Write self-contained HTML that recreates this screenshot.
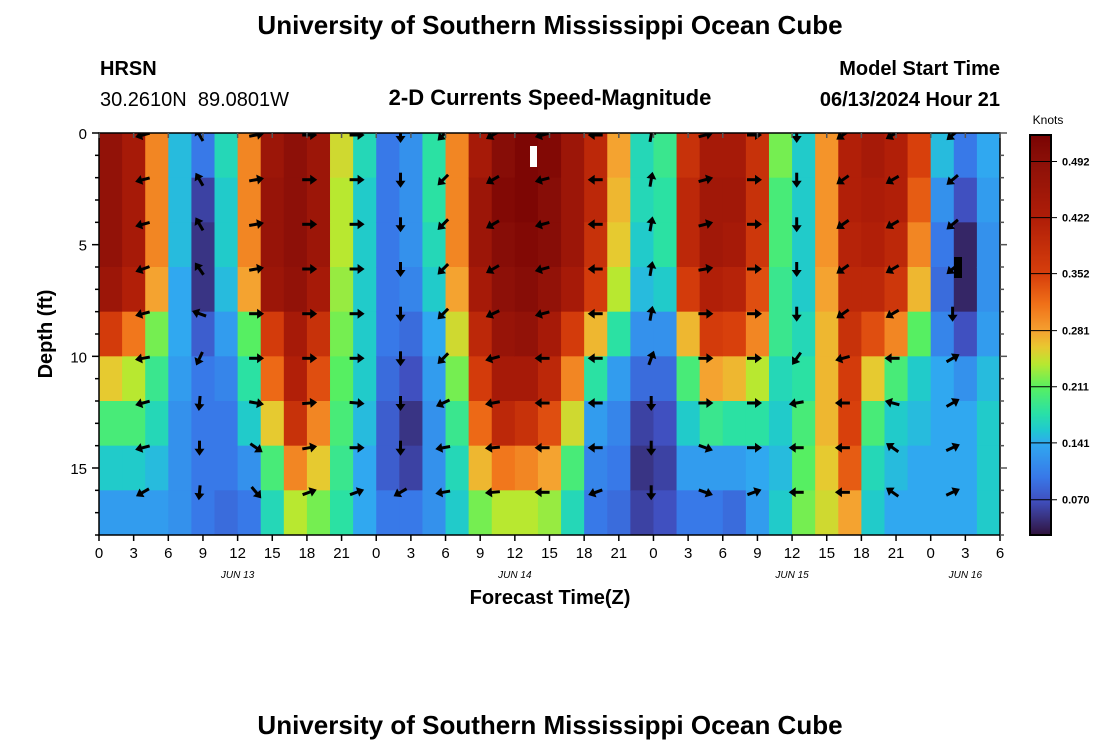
<!DOCTYPE html>
<html><head><meta charset="utf-8"><style>
body{margin:0;background:#fff;width:1100px;height:750px;overflow:hidden;font-family:"Liberation Sans",sans-serif}
svg text{font-family:"Liberation Sans",sans-serif}
</style></head><body>
<svg id="chart" width="1100" height="750" viewBox="0 0 1100 750">
<text x="550" y="34" text-anchor="middle" font-size="26" font-weight="bold">University of Southern Mississippi Ocean Cube</text>
<text x="100" y="75" font-size="20" font-weight="bold">HRSN</text>
<text x="100" y="106" font-size="20" xml:space="preserve">30.2610N  89.0801W</text>
<text x="550" y="105" text-anchor="middle" font-size="22" font-weight="bold">2-D Currents Speed-Magnitude</text>
<text x="1000" y="75" text-anchor="end" font-size="20" font-weight="bold">Model Start Time</text>
<text x="1000" y="106" text-anchor="end" font-size="20" font-weight="bold">06/13/2024 Hour 21</text>
<text x="1048" y="124" text-anchor="middle" font-size="12">Knots</text>
<text transform="translate(52,334) rotate(-90)" text-anchor="middle" font-size="20" font-weight="bold">Depth (ft)</text>
<text x="550" y="604" text-anchor="middle" font-size="20" font-weight="bold">Forecast Time(Z)</text>
<text x="550" y="734" text-anchor="middle" font-size="26" font-weight="bold">University of Southern Mississippi Ocean Cube</text>
<defs><clipPath id="plotclip"><rect x="99" y="133" width="901" height="402"/></clipPath></defs>
<g id="cells" clip-path="url(#plotclip)"></g>
<g id="arrows" clip-path="url(#plotclip)"></g>
<rect x="530" y="146" width="7" height="21" fill="#fff"/>
<rect x="954" y="257" width="8" height="21" fill="#000"/>
<g id="axes"></g>
<g id="cbar"></g>
</svg>
<script>
// Time columns: 2-hour bins, centers in forecast hours
const hours = [1,3,5,7,9,11,13,15,17,19,21,23,25,27,29,31,33,35,37,39,41,43,45,47,49,51,53,55,57,59,61,63,65,67,69,71,73,75,77];
// Depth bins (2 ft), tops in ft
const depths = [0,2,4,6,8,10,12,14,16];
// Speed (knots) per time column, top to bottom
const speeds = [
[0.48,0.48,0.48,0.46,0.36,0.26,0.20,0.16,0.13],
[0.44,0.44,0.44,0.42,0.31,0.24,0.20,0.16,0.13],
[0.30,0.30,0.30,0.28,0.22,0.19,0.17,0.15,0.13],
[0.15,0.15,0.15,0.14,0.14,0.13,0.12,0.12,0.12],
[0.10,0.06,0.05,0.05,0.08,0.10,0.10,0.10,0.10],
[0.17,0.16,0.16,0.15,0.13,0.11,0.10,0.10,0.09],
[0.30,0.30,0.30,0.28,0.21,0.18,0.16,0.12,0.10],
[0.46,0.47,0.47,0.46,0.36,0.32,0.26,0.20,0.17],
[0.49,0.49,0.49,0.48,0.44,0.42,0.38,0.30,0.24],
[0.46,0.46,0.46,0.44,0.38,0.34,0.30,0.26,0.22],
[0.25,0.24,0.24,0.23,0.22,0.21,0.20,0.19,0.18],
[0.17,0.16,0.16,0.16,0.16,0.16,0.15,0.14,0.14],
[0.10,0.10,0.10,0.10,0.10,0.09,0.08,0.08,0.10],
[0.12,0.12,0.12,0.11,0.09,0.07,0.05,0.06,0.10],
[0.18,0.18,0.17,0.16,0.14,0.13,0.12,0.12,0.12],
[0.30,0.30,0.30,0.28,0.25,0.22,0.19,0.17,0.16],
[0.44,0.46,0.46,0.44,0.40,0.36,0.32,0.27,0.22],
[0.50,0.51,0.50,0.49,0.47,0.44,0.40,0.31,0.24],
[0.52,0.52,0.51,0.50,0.48,0.44,0.38,0.30,0.24],
[0.51,0.50,0.50,0.48,0.44,0.40,0.34,0.28,0.23],
[0.46,0.46,0.46,0.44,0.36,0.30,0.25,0.20,0.17],
[0.40,0.40,0.38,0.36,0.27,0.18,0.13,0.11,0.10],
[0.28,0.27,0.26,0.24,0.18,0.13,0.11,0.10,0.09],
[0.17,0.17,0.16,0.15,0.12,0.09,0.06,0.05,0.06],
[0.19,0.18,0.18,0.16,0.12,0.09,0.07,0.06,0.07],
[0.38,0.40,0.40,0.36,0.27,0.20,0.16,0.13,0.10],
[0.44,0.45,0.45,0.42,0.36,0.28,0.19,0.13,0.10],
[0.44,0.45,0.44,0.41,0.35,0.27,0.18,0.13,0.09],
[0.38,0.38,0.37,0.34,0.30,0.24,0.18,0.14,0.13],
[0.22,0.20,0.20,0.19,0.19,0.17,0.16,0.15,0.16],
[0.16,0.16,0.16,0.16,0.17,0.18,0.20,0.21,0.22],
[0.29,0.29,0.29,0.28,0.27,0.27,0.27,0.26,0.25],
[0.42,0.42,0.41,0.40,0.38,0.36,0.35,0.33,0.28],
[0.44,0.43,0.42,0.40,0.34,0.26,0.20,0.17,0.16],
[0.42,0.42,0.40,0.37,0.30,0.20,0.16,0.15,0.14],
[0.35,0.33,0.30,0.27,0.21,0.16,0.15,0.14,0.14],
[0.15,0.12,0.10,0.09,0.11,0.14,0.14,0.14,0.14],
[0.10,0.07,0.04,0.04,0.07,0.12,0.14,0.14,0.14],
[0.14,0.13,0.12,0.12,0.13,0.15,0.16,0.16,0.16]
];
// Arrow columns (forecast hours) and depths (ft)
const arrowHours = [3.8,8.7,13.6,18.2,22.3,26.1,29.8,34.1,38.4,43.0,47.8,52.5,56.7,60.4,64.4,68.7,73.9];
const arrowDepths = [0,2,4,6,8,10,12,14,16];
// Arrow direction in degrees (0=east/right, 90=down on screen)
const arrowDirs = [
[165,165,165,160,165,170,165,165,150],
[240,240,240,235,200,115,95,90,95],
[-10,-10,-10,-10,0,0,10,35,50],
[0,0,0,0,0,0,-5,-10,-20],
[0,0,0,0,0,0,5,0,-20],
[90,90,90,90,90,90,90,90,150],
[135,135,135,135,135,135,155,170,170],
[150,150,150,150,155,165,170,175,175],
[165,165,165,165,165,180,180,180,180],
[180,180,180,180,180,180,180,180,160],
[-80,-80,-80,-80,-80,-70,90,90,90],
[-15,-15,-15,-10,0,0,0,20,20],
[0,0,0,0,0,0,0,0,-20],
[90,90,90,90,90,125,170,180,180],
[145,145,145,145,145,165,180,180,180],
[150,150,150,150,150,180,195,215,215],
[140,140,140,140,90,-30,-30,-25,-25]
];
const cbTicks = [0.070,0.141,0.211,0.281,0.352,0.422,0.492];
const xTickLabels = ["0","3","6","9","12","15","18","21","0","3","6","9","12","15","18","21","0","3","6","9","12","15","18","21","0","3","6"];
const dateLabels = ["JUN 13","JUN 14","JUN 15","JUN 16"];
const dateHours = [12,36,60,75];
const yTickLabels = [0,5,10,15];

const NS="http://www.w3.org/2000/svg";
const X0=99,X1=1000,Y0=133,Y1=535,HMAX=78,DMAX=18;
const xs=h=>X0+(X1-X0)*h/HMAX;
const ys=d=>Y0+(Y1-Y0)*d/DMAX;
const VMIN=0.026,VMAX=0.525;
const CMAP=[[0,'#30123b'],[0.0875,'#4050c0'],[0.146,'#3878e8'],[0.229,'#30a8f0'],[0.2625,'#20c8d0'],[0.304,'#28e0a8'],[0.371,'#58f060'],[0.429,'#b8e830'],[0.471,'#e8c830'],[0.5125,'#f5a030'],[0.579,'#f07018'],[0.65,'#d8400c'],[0.792,'#b01e08'],[0.933,'#8c1008'],[1,'#7a0403']];
function hx(s){return [parseInt(s.slice(1,3),16),parseInt(s.slice(3,5),16),parseInt(s.slice(5,7),16)];}
function cmap(v){
  const x=Math.max(0,Math.min(1,(v-VMIN)/(VMAX-VMIN)));
  for(let i=1;i<CMAP.length;i++){
    if(x<=CMAP[i][0]){
      const a=CMAP[i-1],b=CMAP[i],t=(x-a[0])/(b[0]-a[0]);
      const ca=hx(a[1]),cb=hx(b[1]);
      return `rgb(${ca.map((c,k)=>Math.round(c+(cb[k]-c)*t)).join(',')})`;
    }
  }
  return CMAP[CMAP.length-1][1];
}
function mk(tag,attrs,parent){const e=document.createElementNS(NS,tag);for(const k in attrs)e.setAttribute(k,attrs[k]);parent.appendChild(e);return e;}

const cells=document.getElementById('cells');
hours.forEach((h,i)=>{
  depths.forEach((d,j)=>{
    const xa=xs(h-1),xb=xs(h+1),ya=ys(d),yb=ys(d+2);
    const r=mk('rect',{x:xa.toFixed(2),y:ya.toFixed(2),width:(xb-xa+0.6).toFixed(2),height:(yb-ya+0.6).toFixed(2),fill:cmap(speeds[i][j])},cells);
    
    
  });
});

const arrows=document.getElementById('arrows');
arrowHours.forEach((h,i)=>{
  arrowDepths.forEach((d,j)=>{
    const cx=xs(h),cy=ys(d)+2,a=arrowDirs[i][j];
    const g=mk('g',{transform:`translate(${cx.toFixed(1)},${cy.toFixed(1)}) rotate(${a})`},arrows);
    
    
    mk('line',{x1:-7,y1:0,x2:3,y2:0,stroke:'#000','stroke-width':3},g);
    mk('polygon',{points:'8,0 1,-5 1,5',fill:'#000'},g);
  });
});

const axes=document.getElementById('axes');
mk('rect',{x:X0,y:Y0,width:X1-X0,height:Y1-Y0,fill:'none',stroke:'#000','stroke-width':1.5},axes);
xTickLabels.forEach((lab,i)=>{
  const x=xs(i*3);
  mk('line',{x1:x,y1:Y1,x2:x,y2:Y1+6,stroke:'#000','stroke-width':1.5},axes);
  mk('line',{x1:x,y1:Y0,x2:x,y2:Y0+5,stroke:'#555','stroke-width':1.5},axes);
  const t=mk('text',{x:x,y:Y1+23,'text-anchor':'middle','font-size':15},axes);
  t.textContent=lab;
  
  
});
dateLabels.forEach((lab,i)=>{
  const t=mk('text',{x:xs(dateHours[i]),y:578,'text-anchor':'middle','font-size':10,'font-style':'italic','font-family':'Liberation Mono, monospace'},axes);
  t.textContent=lab;
  
  
});
for(let d=0;d<=DMAX;d++){
  const y=ys(d),len=(d%5===0)?7:4;
  mk('line',{x1:X0-len,y1:y,x2:X0,y2:y,stroke:'#000','stroke-width':1.5},axes);
  mk('line',{x1:X1,y1:y,x2:X1+len,y2:y,stroke:'#555','stroke-width':1.5},axes);
}
yTickLabels.forEach(v=>{
  const t=mk('text',{x:X0-12,y:ys(v)+6,'text-anchor':'end','font-size':15},axes);
  t.textContent=v;
  
  
});

const cbar=document.getElementById('cbar');
const CX=1030,CW=21,CY0=135,CY1=535;
for(let k=0;k<200;k++){
  const v=VMIN+(VMAX-VMIN)*(k+0.5)/200;
  const y=CY1-(CY1-CY0)*(k+1)/200;
  mk('rect',{x:CX,y:y.toFixed(2),width:CW,height:((CY1-CY0)/200+0.5).toFixed(2),fill:cmap(v)},cbar);
}
mk('rect',{x:CX,y:CY0,width:CW,height:CY1-CY0,fill:'none',stroke:'#000','stroke-width':2},cbar);
cbTicks.forEach(v=>{
  const y=CY1-(CY1-CY0)*(v-VMIN)/(VMAX-VMIN);
  mk('line',{x1:CX,y1:y,x2:CX+CW+6,y2:y,stroke:'#000','stroke-width':1},cbar);
  const t=mk('text',{x:CX+CW+11,y:y+4,'font-size':11,'font-weight':'bold'},cbar);
  t.textContent=v.toFixed(3);
  
  
});
</script>
</body></html>
